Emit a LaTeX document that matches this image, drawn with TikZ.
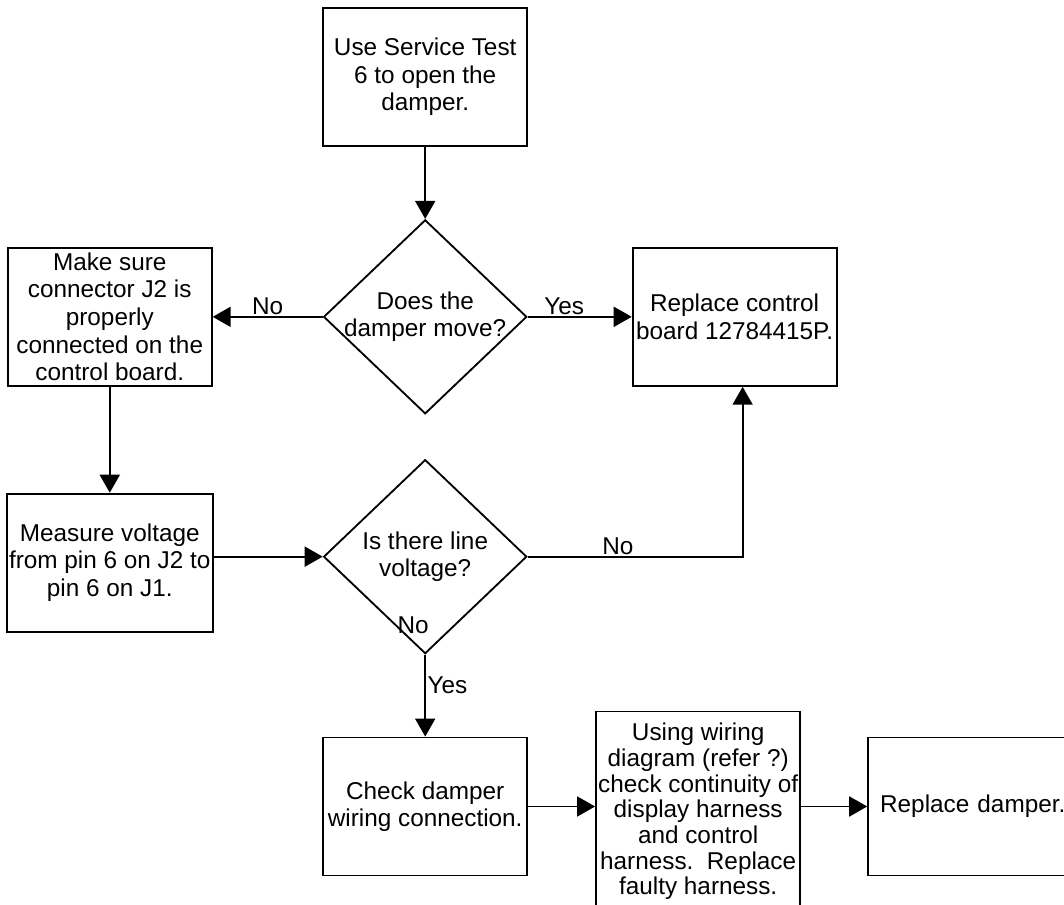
\documentclass[tikz,border=0pt]{standalone}
\usepackage{fontspec}
\setmainfont{Liberation Sans}
\usetikzlibrary{arrows.meta,positioning,shapes.geometric}

\begin{document}
\begin{tikzpicture}[
  node distance=1.8cm and 2.6cm,
  txt/.style={font=\fontsize{17.3}{19.6}\selectfont},
  box/.style={draw, txt, line width=1.3pt, minimum width=5.1cm, minimum height=3.45cm, align=center, inner sep=1.5pt},
  decision/.style={draw, txt, diamond, aspect=1.05, line width=1.3pt, minimum width=5.08cm, minimum height=4.85cm, align=center, inner sep=-2.5pt},
  lbl/.style={txt, inner sep=1pt},
  arr/.style={-{Triangle[length=0.45cm, width=0.5cm]}, line width=1.3pt},
]
\useasboundingbox (0,0) rectangle (26.6,-22.625);

% --- Centre column ---
\node[box] (start) at (10.63,-1.925) {Use Service Test\\6 to open the\\damper.};
\node[decision, below=1.8cm of start] (move) {Does the\\damper move?};
\node[decision, below=1.1cm of move] (volt) {Is there line\\voltage?};
\node[box, below=2.05cm of volt] (check) {Check damper\\wiring connection.};

% --- Side boxes ---
\node[box, left=2.75cm of move] (conn) {Make sure\\connector J2 is\\properly\\connected on the\\control board.};
\node[box, right=2.6cm of move] (board) {Replace control\\board 12784415P.};
\node[box, below=2.65cm of conn] (measure) {Measure voltage\\from pin 6 on J2 to\\pin 6 on J1.};

% --- Bottom row ---
\node[box, font=\fontsize{17.3}{18.3}\selectfont, minimum height=5.0cm, right=1.675cm of check, yshift=-0.125cm] (harness) {Using wiring\\diagram (refer ?)\\check continuity of\\display harness\\and control\\harness.\ \ Replace\\faulty harness.};
\node[box, align=left, text width=4.9cm, inner xsep=0.3cm, right=1.65cm of harness, yshift=0.125cm] (damper) {Replace damper.};

% --- Connectors ---
\draw[arr] (start) -- (move);
\draw[arr] (move) -- node[lbl, above]{No} (conn);
\draw[arr] (move) -- node[lbl, above, pos=0.35]{Yes} (board);
\draw[arr] (conn) -- (measure);
\draw[arr] (measure.east |- volt.west) -- (volt.west);
\draw[arr] (volt.east) -| node[lbl, above, pos=0.21]{No} ([xshift=0.2cm]board.south);
\draw[arr] (volt) -- node[lbl, right, pos=0.38]{Yes} (check);
\node[lbl] (stray) at ([shift={(-0.3,0.725)}]volt.south) {No};
\draw[arr] (check.east) -- (check.east -| harness.west);
\draw[arr] (check.east -| harness.east) -- (damper.west);
\end{tikzpicture}
\end{document}
